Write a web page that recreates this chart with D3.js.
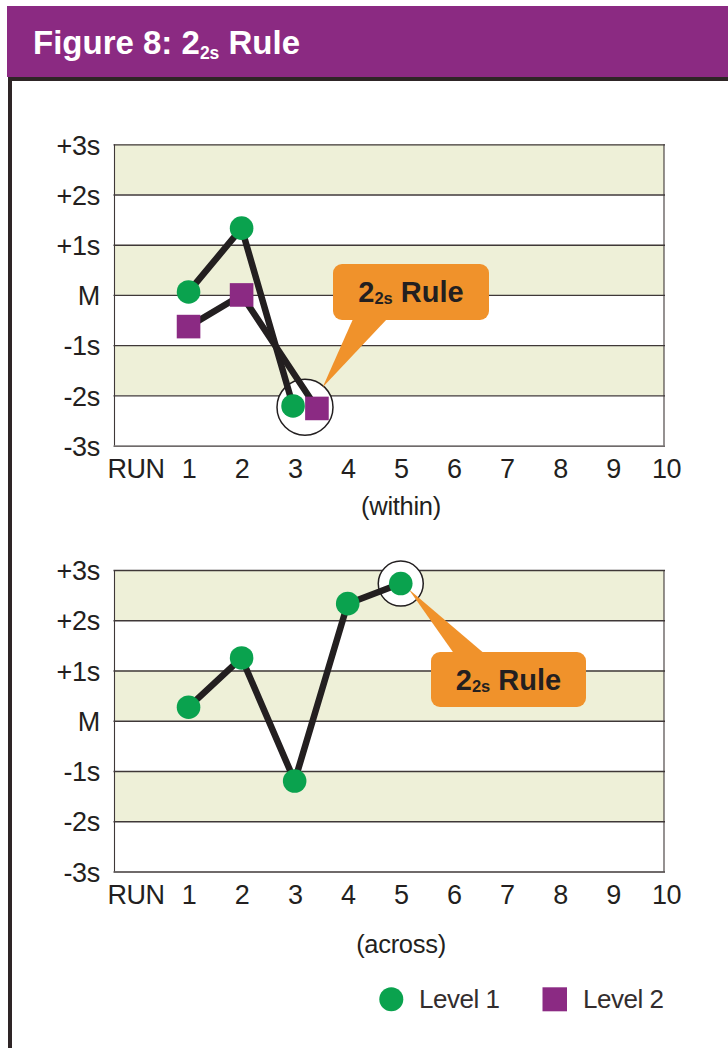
<!DOCTYPE html>
<html>
<head>
<meta charset="utf-8">
<script src="https://cdn.jsdelivr.net/npm/d3@7"></script>
<style>
  html, body { margin: 0; padding: 0; background: #ffffff; }
  svg { display: block; }
  text { font-family: "Liberation Sans", Arial, Helvetica, sans-serif; }
</style>
</head>
<body>
<svg id="chart" width="728" height="1048"></svg>
<script>
// ---------------- data ----------------
const yTickValues = [3, 2, 1, 0, -1, -2, -3];
const yTickLabels = ["+3s", "+2s", "+1s", "M", "-1s", "-2s", "-3s"];
const xTickValues = [0, 1, 2, 3, 4, 5, 6, 7, 8, 9, 10];
const xTickLabels = ["RUN", "1", "2", "3", "4", "5", "6", "7", "8", "9", "10"];
const shadedBands = [[2, 3], [0, 1], [-2, -1]];

const withinRuns = [1, 2, 3];
const withinLevel1 = [0.06, 1.33, -2.21];
const withinLevel2 = [-0.63, 0.0, -2.26];

const acrossRuns = [1, 2, 3, 4, 5];
const acrossLevel1 = [0.27, 1.25, -1.2, 2.33, 2.73];

const legendLabels = ["Level 1", "Level 2"];
const titleMain = "Figure 8: 2";
const titleSub = "2s";
const titleRest = " Rule";
const calloutMain = "2";
const calloutSub = "2s";
const calloutRest = " Rule";

// ---------------- styles ----------------
const C = {
  purple: "#8b2a82",
  green: "#0aa24e",
  square: "#8b2a83",
  orange: "#f0922b",
  band: "#eef0d8",
  grid: "#3f3838",
  ink: "#231f20",
  frame: "#2e2526"
};

const svg = d3.select("#chart");

// ---------------- frame & title ----------------
svg.append("rect").attr("x", 7).attr("y", 6).attr("width", 721).attr("height", 71).attr("fill", C.purple);
svg.append("rect").attr("x", 8).attr("y", 77).attr("width", 720).attr("height", 4).attr("fill", C.frame);
svg.append("rect").attr("x", 8).attr("y", 77).attr("width", 4).attr("height", 971).attr("fill", C.frame);

const title = svg.append("text").attr("x", 33).attr("y", 54)
  .attr("fill", "#ffffff").attr("font-weight", "bold").attr("font-size", 33);
title.append("tspan").text(titleMain);
title.append("tspan").attr("font-size", 17.5).attr("dy", 5).text(titleSub);
title.append("tspan").attr("dy", -5).text(titleRest);

// ---------------- shared x scale ----------------
const x = d3.scaleLinear().domain([0, 10]).range([135.5, 666]);
const plotLeft = 114.5, plotRight = 664;

function panel(yTop, yBottom, note, noteBaseline) {
  const y = d3.scaleLinear().domain([-3, 3]).range([yBottom, yTop]);
  const g = svg.append("g");

  // bands
  g.selectAll("rect.band").data(shadedBands).join("rect")
    .attr("class", "band")
    .attr("x", plotLeft).attr("width", plotRight - plotLeft)
    .attr("y", d => y(d[1])).attr("height", d => y(d[0]) - y(d[1]))
    .attr("fill", C.band);

  // gridlines
  const grid = d3.axisRight(y).tickValues(yTickValues).tickSize(plotRight - plotLeft + 2).tickFormat("");
  const gg = g.append("g").attr("transform", `translate(${plotLeft - 1},0)`).call(grid);
  gg.select(".domain").remove();
  gg.selectAll(".tick line").attr("stroke", C.grid).attr("stroke-width", 1.3);

  // vertical borders
  g.selectAll("line.vb").data([plotLeft, plotRight]).join("line")
    .attr("class", "vb")
    .attr("x1", d => d).attr("x2", d => d)
    .attr("y1", y(3)).attr("y2", y(-3))
    .attr("stroke", C.grid).attr("stroke-width", 1.1);

  // y labels
  const yAxis = d3.axisLeft(y).tickValues(yTickValues)
    .tickFormat(v => yTickLabels[yTickValues.indexOf(v)]).tickSize(0).tickPadding(0);
  const ya = g.append("g").attr("transform", "translate(100,0)").call(yAxis);
  ya.select(".domain").remove();
  ya.selectAll("text").attr("font-family", null).attr("font-size", 27)
    .attr("fill", C.ink).attr("letter-spacing", -0.3).attr("dy", "0.36em").attr("x", 0);

  // x labels
  const xAxis = d3.axisBottom(x).tickValues(xTickValues)
    .tickFormat(v => xTickLabels[v]).tickSize(0).tickPadding(0);
  const xa = g.append("g").attr("transform", `translate(0,${yBottom + 32.5})`).call(xAxis);
  xa.select(".domain").remove();
  xa.selectAll("text").attr("font-family", null).attr("font-size", 27)
    .attr("fill", C.ink).attr("letter-spacing", -0.5).attr("y", 0).attr("dy", 0);

  g.append("text").attr("x", 401).attr("y", noteBaseline).attr("text-anchor", "middle")
    .attr("font-size", 25.5).attr("fill", C.ink).attr("letter-spacing", -0.3).text(note);

  return { g, y };
}

function callout(g, tip, base, box) {
  g.append("path")
    .attr("d", `M${tip[0]},${tip[1]} L${base[0]},${base[2]} L${base[1]},${base[2]} Z`)
    .attr("fill", C.orange);
  g.append("rect").attr("x", box[0]).attr("y", box[1]).attr("width", box[2]).attr("height", box[3])
    .attr("rx", 9).attr("fill", C.orange);
  const t = g.append("text").attr("x", box[0] + box[2] / 2).attr("y", box[1] + box[3] / 2 + 10)
    .attr("text-anchor", "middle").attr("font-weight", "bold").attr("font-size", 29).attr("fill", C.ink);
  t.append("tspan").text(calloutMain);
  t.append("tspan").attr("font-size", 16.5).attr("dy", 2).text(calloutSub);
  t.append("tspan").attr("dy", -2).text(calloutRest);
}

const lineGen = (xs, ys, xsc, ysc) => d3.line().x((d, i) => xsc(xs[i])).y((d, i) => ysc(ys[i]))(ys);

// ---------------- top panel (within) ----------------
{
  const { g, y } = panel(144.3, 445.6, "(within)", 515);
  const level2Dodge = [0, 0, 0.42];     // horizontal dodge so overlapping markers are visible
  const level1Dodge = [0, 0, -0.03];
  const xs1 = withinRuns.map((r, i) => r + level1Dodge[i]);
  const xs2 = withinRuns.map((r, i) => r + level2Dodge[i]);

  // highlight circle around run 3 (both levels)
  const last = withinRuns.length - 1;
  const hx = (x(xs1[last]) + x(xs2[last])) / 2;
  const hy = (y(withinLevel1[last]) + y(withinLevel2[last])) / 2;
  g.append("circle").attr("cx", hx).attr("cy", hy).attr("r", 28)
    .attr("fill", "#ffffff").attr("stroke", C.ink).attr("stroke-width", 1.5);

  callout(g, [322.7, 387.3], [353, 387, 319], [333, 264, 156, 56]);

  g.append("path").attr("d", lineGen(xs1, withinLevel1, x, y))
    .attr("fill", "none").attr("stroke", C.ink).attr("stroke-width", 6.5).attr("stroke-linejoin", "round");
  g.append("path").attr("d", lineGen(xs2, withinLevel2, x, y))
    .attr("fill", "none").attr("stroke", C.ink).attr("stroke-width", 6.5).attr("stroke-linejoin", "round");

  g.selectAll("circle.l1").data(withinLevel1).join("circle").attr("class", "l1")
    .attr("cx", (d, i) => x(xs1[i])).attr("cy", d => y(d)).attr("r", 11.8).attr("fill", C.green);
  g.selectAll("rect.l2").data(withinLevel2).join("rect").attr("class", "l2")
    .attr("x", (d, i) => x(xs2[i]) - 11.8).attr("y", d => y(d) - 11.8)
    .attr("width", 23.6).attr("height", 23.6).attr("fill", C.square);
}

// ---------------- bottom panel (across) ----------------
{
  const { g, y } = panel(570, 871.5, "(across)", 953);
  const last = acrossRuns.length - 1;
  g.append("circle").attr("cx", x(acrossRuns[last])).attr("cy", y(acrossLevel1[last])).attr("r", 22.5)
    .attr("fill", "#ffffff").attr("stroke", C.ink).attr("stroke-width", 1.5);

  callout(g, [408.5, 589], [455, 486, 655], [431, 652, 155, 55]);

  g.append("path").attr("d", lineGen(acrossRuns, acrossLevel1, x, y))
    .attr("fill", "none").attr("stroke", C.ink).attr("stroke-width", 6.5).attr("stroke-linejoin", "round");
  g.selectAll("circle.l1").data(acrossLevel1).join("circle").attr("class", "l1")
    .attr("cx", (d, i) => x(acrossRuns[i])).attr("cy", d => y(d)).attr("r", 11.8).attr("fill", C.green);
}

// ---------------- legend ----------------
{
  const lg = svg.append("g");
  lg.append("circle").attr("cx", 391.3).attr("cy", 999.3).attr("r", 12).attr("fill", C.green);
  lg.append("rect").attr("x", 542.5).attr("y", 987.3).attr("width", 24.5).attr("height", 24).attr("fill", C.square);
  lg.selectAll("text").data(legendLabels).join("text")
    .attr("x", (d, i) => [419, 583][i]).attr("y", 1008.3)
    .attr("font-size", 26).attr("letter-spacing", -0.5).attr("fill", "#332d2e").text(d => d);
}
</script>
</body>
</html>
